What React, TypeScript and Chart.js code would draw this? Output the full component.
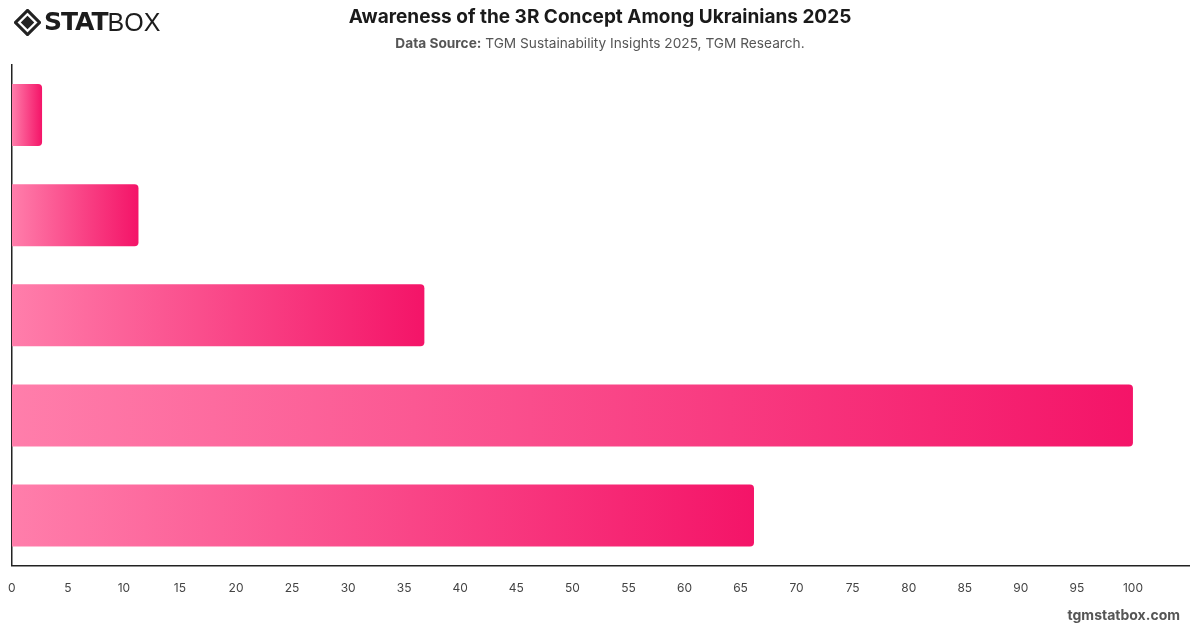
import React, { useEffect, useRef } from "react";
import { Chart, registerables } from "chart.js";

Chart.register(...registerables);

const categories = [
  "Heard of it and apply it",
  "Heard of it, know the details",
  "Heard of it, know little",
  "All respondents",
  "Never heard of it",
];
const shares = [2.7, 11.3, 36.8, 100, 66.2];
const tickStep = 5;
const axisMax = 105;

const FONT = "Inter, 'Liberation Sans', Arial, sans-serif";

function Logo() {
  return (
    <div style={{ position: "absolute", left: 14, top: 8, display: "flex", alignItems: "center" }}>
      <svg width="27" height="27" viewBox="0 0 28 28">
        <path d="M14 1.5 L26.5 14 L14 26.5 L1.5 14 Z" fill="none" stroke="#222" strokeWidth="3.2" />
        <path d="M14 7 L21 14 L14 21 L7 14 Z" fill="#222" />
      </svg>
      <span
        style={{
          fontFamily: "'DejaVu Sans', Arial, sans-serif",
          fontWeight: 900,
          fontSize: 25,
          letterSpacing: -1,
          color: "#1c1c1c",
          marginLeft: 3,
          lineHeight: "28px",
        }}
      >
        STAT
      </span>
      <span
        style={{
          fontFamily: "'Liberation Sans', Arial, sans-serif",
          fontWeight: 400,
          fontSize: 25,
          color: "#1c1c1c",
          lineHeight: "28px",
        }}
      >
        BOX
      </span>
    </div>
  );
}

export default function App() {
  const canvasRef = useRef<HTMLCanvasElement | null>(null);

  useEffect(() => {
    document.body.style.margin = "0";
    const canvas = canvasRef.current;
    if (!canvas) return;
    const chart = new Chart(canvas, {
      type: "bar",
      data: {
        labels: categories,
        datasets: [
          {
            data: shares,
            backgroundColor: (ctx: any) => {
              const c = ctx.chart;
              const xs = c.scales?.x;
              if (!c.chartArea || !xs) return "#f5186c";
              const x0 = xs.getPixelForValue(0);
              const x1 = xs.getPixelForValue(ctx.raw as number);
              const g = c.ctx.createLinearGradient(x0, 0, Math.max(x1, x0 + 1), 0);
              g.addColorStop(0, "#ff7eab");
              g.addColorStop(1, "#f41468");
              return g;
            },
            borderRadius: 4,
            borderSkipped: "start",
            categoryPercentage: 0.8,
            barPercentage: 0.775,
          },
        ],
      },
      options: {
        indexAxis: "y",
        responsive: false,
        animation: false,
        layout: { padding: { top: 65, left: 3, right: 11, bottom: 24 } },
        plugins: {
          legend: { display: false },
          title: { display: false },
          tooltip: { enabled: false },
        },
        scales: {
          x: {
            min: 0,
            max: axisMax,
            grid: { display: false },
            border: { display: true, color: "#222", width: 1.5 },
            ticks: {
              stepSize: tickStep,
              color: "#444",
              padding: 8,
              font: { family: FONT, size: 12 },
              callback: (v: any) => (Number(v) > 100 ? "" : String(v)),
            },
          },
          y: {
            grid: { display: false },
            border: { display: true, color: "#222", width: 1.5 },
            ticks: { display: false },
          },
        },
      },
    });
    return () => chart.destroy();
  }, []);

  return (
    <div style={{ position: "relative", width: 1200, height: 628, background: "#fff", overflow: "hidden" }}>
      <canvas ref={canvasRef} width={1200} height={628} style={{ position: "absolute", left: 0, top: 0 }} />
      <Logo />
      <div
        style={{
          position: "absolute",
          left: 0,
          right: 0,
          top: 5,
          textAlign: "center",
          fontFamily: FONT,
          fontWeight: 700,
          fontSize: 19,
          color: "#1a1a1a",
        }}
      >
        Awareness of the 3R Concept Among Ukrainians 2025
      </div>
      <div
        style={{
          position: "absolute",
          left: 0,
          right: 0,
          top: 35,
          textAlign: "center",
          fontFamily: FONT,
          fontSize: 13.7,
          color: "#555",
        }}
      >
        <b>Data Source:</b> TGM Sustainability Insights 2025, TGM Research.
      </div>
      <div
        style={{
          position: "absolute",
          right: 20,
          top: 606,
          fontFamily: FONT,
          fontWeight: 700,
          fontSize: 14,
          color: "#555",
        }}
      >
        tgmstatbox.com
      </div>
    </div>
  );
}
